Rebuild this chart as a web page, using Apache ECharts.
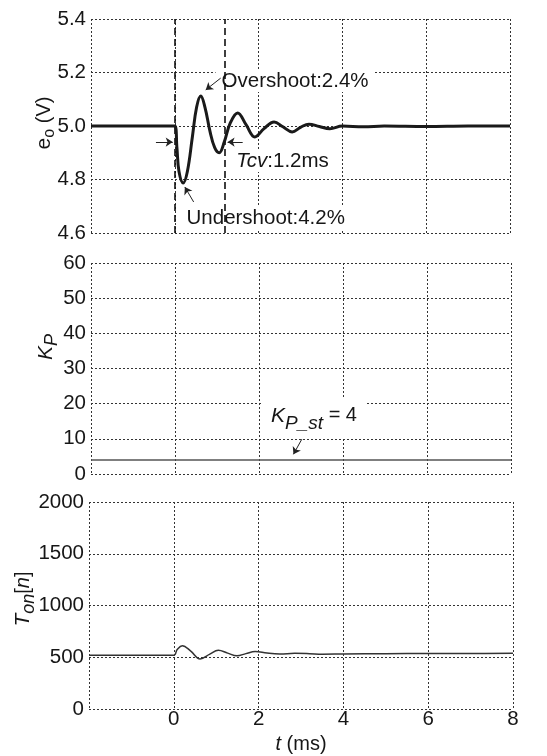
<!DOCTYPE html>
<html><head><meta charset="utf-8">
<script src="https://cdn.jsdelivr.net/npm/echarts@6/dist/echarts.min.js"></script>
<style>html,body{margin:0;padding:0;background:#fff}#c{width:547px;height:756px}</style>
</head><body><div id="c"></div>
<script>
// ---- data ----
const xTicks = [-2, 0, 2, 4, 6, 8];
const eoT = [-2, 0, 0.05, 0.1, 0.2, 0.3, 0.42, 0.52, 0.62, 0.72, 0.84, 0.95, 1.06, 1.18, 1.32, 1.5, 1.7, 1.91, 2.13, 2.37, 2.58, 2.8, 3.0, 3.2, 3.45, 3.7, 4.0, 4.5, 5.0, 6.0, 7.0, 8.0];
const eoV = [5.0, 5.0, 4.92, 4.83, 4.787, 4.83, 4.96, 5.07, 5.112, 5.07, 4.98, 4.92, 4.90, 4.94, 5.01, 5.049, 5.005, 4.959, 4.99, 5.015, 4.997, 4.978, 4.995, 5.007, 4.998, 4.99, 5.0, 4.997, 5.0, 4.998, 5.0, 5.0];
const kpT = [-2, 8];
const kpV = [4, 4];
const tonT = [-2, 0, 0.08, 0.2, 0.4, 0.62, 0.85, 1.05, 1.27, 1.49, 1.7, 1.92, 2.2, 2.5, 2.85, 3.2, 3.5, 4.0, 5.0, 6.0, 7.0, 8.0];
const tonV = [520, 520, 575, 612, 560, 484, 530, 568, 540, 514, 535, 555, 540, 532, 538, 535, 530, 532, 535, 537, 537, 538];
const markerTimes = [0, 1.2];
const eoTicks = [4.6, 4.8, 5.0, 5.2, 5.4];
const kpTicks = [0, 10, 20, 30, 40, 50, 60];
const tonTicks = [0, 500, 1000, 1500, 2000];

const FONT = '"Liberation Sans", Arial, sans-serif';
const TXT = '#161616';
const pair = (a, b) => a.map((v, i) => [v, b[i]]);

const chart = echarts.init(document.getElementById('c'), null, {renderer: 'canvas'});
const gridLine = {show: true, lineStyle: {color: '#333', width: 1, type: [2, 2]}};
function xAx(i, showLabel) {
  return {
    type: 'value', gridIndex: i, min: xTicks[0], max: xTicks[xTicks.length - 1], interval: 2,
    axisLine: {show: false}, axisTick: {show: false}, splitLine: gridLine,
    axisLabel: {show: showLabel, margin: 0, color: TXT, fontSize: 20.5, fontFamily: FONT,
      formatter: v => (v === xTicks[0] ? '' : String(v))},
    name: showLabel ? '{i|t} (ms)' : '', nameLocation: 'middle', nameGap: 25,
    nameTextStyle: {color: TXT, fontSize: 20, fontFamily: FONT, rich: {i: {fontStyle: 'italic', fontSize: 20, fontFamily: FONT, color: TXT}}}
  };
}
function yAx(i, ticks, dec) {
  return {
    type: 'value', gridIndex: i, min: ticks[0], max: ticks[ticks.length - 1], interval: ticks[1] - ticks[0],
    axisLine: {show: false}, axisTick: {show: false}, splitLine: gridLine,
    axisLabel: {margin: 5, color: TXT, fontSize: 20.5, fontFamily: FONT, formatter: v => v.toFixed(dec)}
  };
}
const arrowStyle = {color: '#222', width: 1, type: 'solid'};
function arrow(a, b) { return [{coord: a}, {coord: b}]; }
const arrowMark = items => ({silent: true, animation: false, label: {show: false}, symbol: ['none', 'arrow'], symbolSize: 7, lineStyle: arrowStyle, data: items});

chart.setOption({
  animation: false,
  backgroundColor: '#fff',
  grid: [
    {left: 91, right: 37, top: 19, height: 214},
    {left: 91, right: 36, top: 263, height: 211},
    {left: 89, right: 34, top: 502, height: 207}
  ],
  xAxis: [xAx(0, false), xAx(1, false), xAx(2, true)],
  yAxis: [yAx(0, eoTicks, 1), yAx(1, kpTicks, 0), yAx(2, tonTicks, 0)],
  series: [
    {type: 'line', xAxisIndex: 0, yAxisIndex: 0, data: pair(eoT, eoV), smooth: 0.4, showSymbol: false,
      lineStyle: {color: '#1a1a1a', width: 3}, z: 5,
      markLine: {silent: true, animation: false, label: {show: false}, symbol: ['none', 'none'],
        lineStyle: {color: '#111', width: 1.6, type: [7, 4]},
        data: markerTimes.map(t => ({xAxis: t}))}},
    {type: 'line', xAxisIndex: 0, yAxisIndex: 0, data: [], showSymbol: false,
      markLine: arrowMark([
        arrow([1.095, 5.179], [0.738, 5.135]),
        arrow([0.45, 4.716], [0.24, 4.772]),
        arrow([-0.45, 4.94], [-0.05, 4.94]),
        arrow([1.62, 4.94], [1.26, 4.94])
      ])},
    {type: 'line', xAxisIndex: 1, yAxisIndex: 1, data: pair(kpT, kpV), showSymbol: false,
      lineStyle: {color: '#555', width: 1.6},
      markLine: arrowMark([arrow([3.02, 9.9], [2.82, 5.6])])},
    {type: 'line', xAxisIndex: 2, yAxisIndex: 2, data: pair(tonT, tonV), smooth: 0.4, showSymbol: false,
      lineStyle: {color: '#333', width: 1.5}}
  ]
});

// ---- text labels (positioned through the chart's scales) ----
const ctx = document.createElement('canvas').getContext('2d');
function tw(p) { ctx.font = (p.i ? 'italic ' : '') + p.s + 'px ' + FONT; return ctx.measureText(p.t).width; }
function label(x, y, parts, rot, bg) {
  const total = parts.reduce((s, p) => s + tw(p), 0);
  const children = [];
  if (bg) children.push({type: 'rect', shape: {x: -total / 2 - bg[0], y: -bg[1], width: total + 2 * bg[0], height: 2 * bg[1] + (bg[2] || 0)}, style: {fill: '#fff'}});
  let cx = -total / 2;
  parts.forEach(p => {
    children.push({type: 'text', x: cx, y: p.dy || 0, style: {text: p.t, fontSize: p.s, fontFamily: FONT, fontStyle: p.i ? 'italic' : 'normal', fill: TXT, align: 'left', verticalAlign: 'middle'}});
    cx += tw(p);
  });
  return {type: 'group', x: x, y: y, rotation: rot || 0, children: children, z: 100};
}
const px = (g, pt) => chart.convertToPixel({gridIndex: g}, pt);
const o1 = px(0, [2.87, 5.168]);
const o2 = px(0, [2.57, 4.869]);
const o3 = px(0, [2.17, 4.656]);
const o4 = px(1, [3.31, 16.5]);
const R = Math.PI / 2;
chart.setOption({
  graphic: [
    label(o1[0], o1[1], [{t: 'Overshoot:2.4%', s: 20.5}], 0, [6, 11]),
    label(o2[0], o2[1], [{t: 'Tcv', s: 20.5, i: true}, {t: ':1.2ms', s: 20.5}], 0, [4, 11]),
    label(o3[0], o3[1], [{t: 'Undershoot:4.2%', s: 20.5}], 0, [4, 11]),
    label(o4[0], o4[1], [{t: 'K', s: 21, i: true}, {t: 'P_st', s: 19, i: true, dy: 8}, {t: ' = 4', s: 20}], 0, [10, 17, 4]),
    label(44, 123, [{t: 'e', s: 21}, {t: 'o', s: 16, dy: 6}, {t: ' (V)', s: 20}], R),
    label(46, 347, [{t: 'K', s: 21, i: true}, {t: 'P', s: 18, i: true, dy: 6}], R),
    label(23, 599, [{t: 'T', s: 21, i: true}, {t: 'on', s: 18, i: true, dy: 6}, {t: '[', s: 20}, {t: 'n', s: 20, i: true}, {t: ']', s: 20}], R)
  ]
});
</script>
</body></html>
